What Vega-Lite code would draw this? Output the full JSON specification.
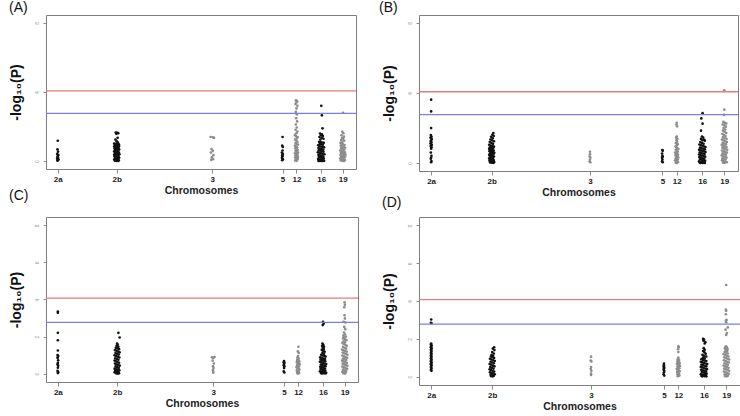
{
"$schema": "https://vega.github.io/schema/vega-lite/v6.json",
"padding": {"left": 8, "top": 0, "right": 5, "bottom": 0},
"background": "white",
"bounds": "flush",
"columns": 2,
"align": "each",
"spacing": {"row": 46, "column": 61},
"datasets": {
"thr": [{"line": "Bonferroni", "y": 4.07}, {"line": "Suggestive", "y": 2.77}],
"A": [
{"c":"2a","x":3.8,"y":1.18},{"c":"2a","x":3.7,"y":0.68},{"c":"2a","x":3.9,"y":0.55},{"c":"2a","x":3.6,"y":0.42},{"c":"2a","x":4.0,"y":0.36},{"c":"2a","x":3.8,"y":0.3},{"c":"2a","x":3.7,"y":0.24},{"c":"2a","x":3.9,"y":0.2},{"c":"2a","x":3.6,"y":0.15},{"c":"2a","x":4.0,"y":0.1},{"c":"2a","x":3.8,"y":0.06},{"c":"2a","x":3.7,"y":0.03},{"c":"2a","x":3.9,"y":0.12},{"c":"2a","x":3.8,"y":0.18},
{"c":"2b","x":22.5,"y":1.66},{"c":"2b","x":22.9,"y":1.64},{"c":"2b","x":23.3,"y":1.62},{"c":"2b","x":22.7,"y":1.58},{"c":"2b","x":23.1,"y":1.35},{"c":"2b","x":22.4,"y":1.25},{"c":"2b","x":22.8,"y":1.15},{"c":"2b","x":23.2,"y":1.08},{"c":"2b","x":22.0,"y":1.02},{"c":"2b","x":22.5,"y":1.0},{"c":"2b","x":23.0,"y":1.0},{"c":"2b","x":23.5,"y":0.98},{"c":"2b","x":22.2,"y":0.94},{"c":"2b","x":22.7,"y":0.92},{"c":"2b","x":23.2,"y":0.9},{"c":"2b","x":23.6,"y":0.88},{"c":"2b","x":22.0,"y":0.85},{"c":"2b","x":22.4,"y":0.82},{"c":"2b","x":22.9,"y":0.8},{"c":"2b","x":23.4,"y":0.78},{"c":"2b","x":22.1,"y":0.74},{"c":"2b","x":22.6,"y":0.72},{"c":"2b","x":23.1,"y":0.7},{"c":"2b","x":23.6,"y":0.68},{"c":"2b","x":22.3,"y":0.65},{"c":"2b","x":22.8,"y":0.62},{"c":"2b","x":23.3,"y":0.6},{"c":"2b","x":22.0,"y":0.57},{"c":"2b","x":22.5,"y":0.55},{"c":"2b","x":23.0,"y":0.52},{"c":"2b","x":23.5,"y":0.5},{"c":"2b","x":22.2,"y":0.47},{"c":"2b","x":22.7,"y":0.45},{"c":"2b","x":23.2,"y":0.42},{"c":"2b","x":23.7,"y":0.4},{"c":"2b","x":22.0,"y":0.37},{"c":"2b","x":22.4,"y":0.35},{"c":"2b","x":22.9,"y":0.32},{"c":"2b","x":23.4,"y":0.3},{"c":"2b","x":22.1,"y":0.27},{"c":"2b","x":22.6,"y":0.25},{"c":"2b","x":23.1,"y":0.22},{"c":"2b","x":23.6,"y":0.2},{"c":"2b","x":22.3,"y":0.17},{"c":"2b","x":22.8,"y":0.15},{"c":"2b","x":23.3,"y":0.12},{"c":"2b","x":22.0,"y":0.1},{"c":"2b","x":22.5,"y":0.08},{"c":"2b","x":23.0,"y":0.06},{"c":"2b","x":23.5,"y":0.04},{"c":"2b","x":22.2,"y":0.03},{"c":"2b","x":22.7,"y":0.02},{"c":"2b","x":23.2,"y":0.01},
{"c":"3","x":53.1,"y":1.4},{"c":"3","x":53.9,"y":1.38},{"c":"3","x":54.2,"y":1.35},{"c":"3","x":53.4,"y":0.7},{"c":"3","x":53.8,"y":0.6},{"c":"3","x":53.2,"y":0.5},{"c":"3","x":54.0,"y":0.35},{"c":"3","x":53.5,"y":0.22},{"c":"3","x":53.9,"y":0.12},{"c":"3","x":53.3,"y":0.08},
{"c":"5","x":76.3,"y":1.4},{"c":"5","x":76.2,"y":0.9},{"c":"5","x":76.4,"y":0.82},{"c":"5","x":76.3,"y":0.62},{"c":"5","x":76.1,"y":0.5},{"c":"5","x":76.4,"y":0.42},{"c":"5","x":76.2,"y":0.35},{"c":"5","x":76.3,"y":0.28},{"c":"5","x":76.1,"y":0.2},{"c":"5","x":76.4,"y":0.12},{"c":"5","x":76.2,"y":0.06},
{"c":"12","x":80.6,"y":3.52},{"c":"12","x":81.0,"y":3.47},{"c":"12","x":80.8,"y":3.4},{"c":"12","x":80.5,"y":3.3},{"c":"12","x":81.1,"y":3.2},{"c":"12","x":80.8,"y":3.05},{"c":"12","x":80.6,"y":2.85},{"c":"12","x":80.9,"y":2.7},{"c":"12","x":80.7,"y":2.48},{"c":"12","x":81.0,"y":2.3},{"c":"12","x":80.6,"y":2.12},{"c":"12","x":80.9,"y":1.95},{"c":"12","x":80.5,"y":1.82},{"c":"12","x":81.1,"y":1.72},{"c":"12","x":80.8,"y":1.62},{"c":"12","x":80.3,"y":1.52},{"c":"12","x":80.6,"y":1.45},{"c":"12","x":81.2,"y":1.4},{"c":"12","x":80.9,"y":1.32},{"c":"12","x":80.4,"y":1.25},{"c":"12","x":80.7,"y":1.2},{"c":"12","x":81.1,"y":1.12},{"c":"12","x":80.5,"y":1.05},{"c":"12","x":80.8,"y":1.0},{"c":"12","x":81.3,"y":0.96},{"c":"12","x":80.3,"y":0.9},{"c":"12","x":80.6,"y":0.85},{"c":"12","x":81.0,"y":0.8},{"c":"12","x":80.4,"y":0.75},{"c":"12","x":80.8,"y":0.7},{"c":"12","x":81.2,"y":0.65},{"c":"12","x":80.5,"y":0.6},{"c":"12","x":80.9,"y":0.55},{"c":"12","x":81.3,"y":0.5},{"c":"12","x":80.3,"y":0.46},{"c":"12","x":80.7,"y":0.42},{"c":"12","x":81.1,"y":0.38},{"c":"12","x":80.5,"y":0.34},{"c":"12","x":80.9,"y":0.3},{"c":"12","x":81.3,"y":0.26},{"c":"12","x":80.4,"y":0.22},{"c":"12","x":80.8,"y":0.18},{"c":"12","x":81.2,"y":0.14},{"c":"12","x":80.6,"y":0.1},{"c":"12","x":81.0,"y":0.07},{"c":"12","x":80.4,"y":0.04},{"c":"12","x":80.8,"y":0.02},
{"c":"16","x":88.8,"y":3.2},{"c":"16","x":89.0,"y":2.65},{"c":"16","x":89.2,"y":1.9},{"c":"16","x":88.4,"y":1.6},{"c":"16","x":89.0,"y":1.55},{"c":"16","x":88.7,"y":1.5},{"c":"16","x":89.3,"y":1.45},{"c":"16","x":88.2,"y":1.4},{"c":"16","x":88.9,"y":1.35},{"c":"16","x":89.5,"y":1.3},{"c":"16","x":88.5,"y":1.25},{"c":"16","x":88.1,"y":1.12},{"c":"16","x":88.6,"y":1.1},{"c":"16","x":89.1,"y":1.08},{"c":"16","x":89.6,"y":1.06},{"c":"16","x":88.3,"y":1.0},{"c":"16","x":88.8,"y":0.98},{"c":"16","x":89.3,"y":0.95},{"c":"16","x":87.8,"y":0.92},{"c":"16","x":88.2,"y":0.88},{"c":"16","x":88.7,"y":0.85},{"c":"16","x":89.2,"y":0.82},{"c":"16","x":89.7,"y":0.8},{"c":"16","x":87.9,"y":0.76},{"c":"16","x":88.4,"y":0.73},{"c":"16","x":88.9,"y":0.7},{"c":"16","x":89.4,"y":0.67},{"c":"16","x":88.0,"y":0.64},{"c":"16","x":88.5,"y":0.61},{"c":"16","x":89.0,"y":0.58},{"c":"16","x":89.5,"y":0.55},{"c":"16","x":87.7,"y":0.52},{"c":"16","x":88.2,"y":0.49},{"c":"16","x":88.7,"y":0.46},{"c":"16","x":89.2,"y":0.43},{"c":"16","x":89.8,"y":0.4},{"c":"16","x":87.9,"y":0.37},{"c":"16","x":88.4,"y":0.34},{"c":"16","x":88.9,"y":0.31},{"c":"16","x":89.4,"y":0.28},{"c":"16","x":88.0,"y":0.25},{"c":"16","x":88.5,"y":0.22},{"c":"16","x":89.0,"y":0.19},{"c":"16","x":89.6,"y":0.16},{"c":"16","x":87.8,"y":0.13},{"c":"16","x":88.3,"y":0.1},{"c":"16","x":88.8,"y":0.08},{"c":"16","x":89.3,"y":0.06},{"c":"16","x":88.1,"y":0.04},{"c":"16","x":88.6,"y":0.03},{"c":"16","x":89.1,"y":0.02},{"c":"16","x":89.7,"y":0.02},{"c":"16","x":87.9,"y":0.01},{"c":"16","x":88.4,"y":0.01},{"c":"16","x":89.0,"y":0.01},
{"c":"19","x":95.8,"y":2.8},{"c":"19","x":95.6,"y":1.7},{"c":"19","x":95.9,"y":1.62},{"c":"19","x":95.3,"y":1.5},{"c":"19","x":96.1,"y":1.42},{"c":"19","x":95.5,"y":1.35},{"c":"19","x":95.9,"y":1.28},{"c":"19","x":95.2,"y":1.22},{"c":"19","x":96.2,"y":1.18},{"c":"19","x":95.6,"y":1.12},{"c":"19","x":95.0,"y":1.06},{"c":"19","x":95.4,"y":1.02},{"c":"19","x":95.8,"y":0.98},{"c":"19","x":96.3,"y":0.94},{"c":"19","x":95.1,"y":0.9},{"c":"19","x":95.5,"y":0.86},{"c":"19","x":96.0,"y":0.82},{"c":"19","x":96.5,"y":0.78},{"c":"19","x":95.2,"y":0.74},{"c":"19","x":95.7,"y":0.7},{"c":"19","x":96.2,"y":0.66},{"c":"19","x":94.9,"y":0.62},{"c":"19","x":95.4,"y":0.58},{"c":"19","x":95.9,"y":0.55},{"c":"19","x":96.4,"y":0.52},{"c":"19","x":95.1,"y":0.48},{"c":"19","x":95.6,"y":0.45},{"c":"19","x":96.1,"y":0.42},{"c":"19","x":96.6,"y":0.39},{"c":"19","x":95.0,"y":0.36},{"c":"19","x":95.5,"y":0.33},{"c":"19","x":96.0,"y":0.3},{"c":"19","x":96.5,"y":0.27},{"c":"19","x":95.2,"y":0.24},{"c":"19","x":95.7,"y":0.21},{"c":"19","x":96.2,"y":0.18},{"c":"19","x":94.9,"y":0.15},{"c":"19","x":95.4,"y":0.12},{"c":"19","x":95.9,"y":0.09},{"c":"19","x":96.4,"y":0.06},{"c":"19","x":95.1,"y":0.04},{"c":"19","x":95.6,"y":0.02},{"c":"19","x":96.1,"y":0.01}
],
"B": [
{"c":"2a","x":3.8,"y":3.62},{"c":"2a","x":3.8,"y":2.95},{"c":"2a","x":3.8,"y":2.0},{"c":"2a","x":3.7,"y":1.6},{"c":"2a","x":3.9,"y":1.52},{"c":"2a","x":3.6,"y":1.45},{"c":"2a","x":4.0,"y":1.38},{"c":"2a","x":3.8,"y":1.3},{"c":"2a","x":3.7,"y":1.24},{"c":"2a","x":3.9,"y":1.18},{"c":"2a","x":3.6,"y":1.12},{"c":"2a","x":4.0,"y":1.05},{"c":"2a","x":3.8,"y":1.0},{"c":"2a","x":3.7,"y":0.95},{"c":"2a","x":3.9,"y":0.9},{"c":"2a","x":3.8,"y":0.82},{"c":"2a","x":3.7,"y":0.6},{"c":"2a","x":3.9,"y":0.42},{"c":"2a","x":3.8,"y":0.32},{"c":"2a","x":3.7,"y":0.25},{"c":"2a","x":3.9,"y":0.12},{"c":"2a","x":3.8,"y":0.05},
{"c":"2b","x":23.3,"y":1.72},{"c":"2b","x":23.0,"y":1.62},{"c":"2b","x":23.4,"y":1.55},{"c":"2b","x":22.6,"y":1.5},{"c":"2b","x":23.1,"y":1.42},{"c":"2b","x":22.4,"y":1.35},{"c":"2b","x":22.9,"y":1.3},{"c":"2b","x":23.5,"y":1.25},{"c":"2b","x":22.2,"y":1.2},{"c":"2b","x":22.7,"y":1.15},{"c":"2b","x":23.2,"y":1.1},{"c":"2b","x":22.0,"y":1.05},{"c":"2b","x":22.5,"y":1.0},{"c":"2b","x":23.0,"y":0.97},{"c":"2b","x":23.5,"y":0.94},{"c":"2b","x":22.2,"y":0.9},{"c":"2b","x":22.7,"y":0.87},{"c":"2b","x":23.2,"y":0.84},{"c":"2b","x":22.0,"y":0.8},{"c":"2b","x":22.4,"y":0.77},{"c":"2b","x":22.9,"y":0.74},{"c":"2b","x":23.4,"y":0.71},{"c":"2b","x":22.1,"y":0.68},{"c":"2b","x":22.6,"y":0.65},{"c":"2b","x":23.1,"y":0.62},{"c":"2b","x":23.6,"y":0.59},{"c":"2b","x":22.3,"y":0.56},{"c":"2b","x":22.8,"y":0.53},{"c":"2b","x":23.3,"y":0.5},{"c":"2b","x":22.0,"y":0.47},{"c":"2b","x":22.5,"y":0.44},{"c":"2b","x":23.0,"y":0.41},{"c":"2b","x":23.5,"y":0.38},{"c":"2b","x":22.2,"y":0.35},{"c":"2b","x":22.7,"y":0.32},{"c":"2b","x":23.2,"y":0.29},{"c":"2b","x":22.0,"y":0.26},{"c":"2b","x":22.4,"y":0.23},{"c":"2b","x":22.9,"y":0.2},{"c":"2b","x":23.4,"y":0.17},{"c":"2b","x":22.1,"y":0.14},{"c":"2b","x":22.6,"y":0.11},{"c":"2b","x":23.1,"y":0.08},{"c":"2b","x":23.6,"y":0.06},{"c":"2b","x":22.3,"y":0.04},{"c":"2b","x":22.8,"y":0.02},{"c":"2b","x":23.3,"y":0.01},
{"c":"3","x":53.6,"y":0.65},{"c":"3","x":53.6,"y":0.5},{"c":"3","x":53.5,"y":0.38},{"c":"3","x":53.7,"y":0.32},{"c":"3","x":53.6,"y":0.2},{"c":"3","x":53.5,"y":0.1},{"c":"3","x":53.7,"y":0.05},
{"c":"5","x":76.3,"y":0.75},{"c":"5","x":76.4,"y":0.7},{"c":"5","x":76.2,"y":0.55},{"c":"5","x":76.3,"y":0.42},{"c":"5","x":76.4,"y":0.36},{"c":"5","x":76.2,"y":0.3},{"c":"5","x":76.3,"y":0.2},{"c":"5","x":76.2,"y":0.1},{"c":"5","x":76.4,"y":0.05},
{"c":"12","x":80.8,"y":2.3},{"c":"12","x":80.7,"y":2.2},{"c":"12","x":80.9,"y":2.1},{"c":"12","x":80.8,"y":1.52},{"c":"12","x":80.6,"y":1.45},{"c":"12","x":81.0,"y":1.38},{"c":"12","x":80.7,"y":1.3},{"c":"12","x":80.9,"y":1.22},{"c":"12","x":80.5,"y":1.15},{"c":"12","x":81.1,"y":1.08},{"c":"12","x":80.8,"y":1.02},{"c":"12","x":80.4,"y":0.96},{"c":"12","x":80.7,"y":0.9},{"c":"12","x":81.0,"y":0.85},{"c":"12","x":81.3,"y":0.8},{"c":"12","x":80.5,"y":0.75},{"c":"12","x":80.8,"y":0.7},{"c":"12","x":81.1,"y":0.65},{"c":"12","x":80.3,"y":0.6},{"c":"12","x":80.6,"y":0.56},{"c":"12","x":80.9,"y":0.52},{"c":"12","x":81.2,"y":0.48},{"c":"12","x":80.4,"y":0.44},{"c":"12","x":80.7,"y":0.4},{"c":"12","x":81.0,"y":0.36},{"c":"12","x":81.3,"y":0.32},{"c":"12","x":80.5,"y":0.28},{"c":"12","x":80.8,"y":0.24},{"c":"12","x":81.1,"y":0.2},{"c":"12","x":80.3,"y":0.16},{"c":"12","x":80.6,"y":0.12},{"c":"12","x":80.9,"y":0.09},{"c":"12","x":81.2,"y":0.06},{"c":"12","x":80.5,"y":0.03},{"c":"12","x":80.8,"y":0.01},
{"c":"16","x":88.9,"y":2.85},{"c":"16","x":88.5,"y":2.55},{"c":"16","x":88.9,"y":2.25},{"c":"16","x":88.4,"y":1.85},{"c":"16","x":88.7,"y":1.52},{"c":"16","x":89.1,"y":1.45},{"c":"16","x":88.4,"y":1.38},{"c":"16","x":89.4,"y":1.33},{"c":"16","x":88.9,"y":1.3},{"c":"16","x":89.6,"y":1.28},{"c":"16","x":88.2,"y":1.2},{"c":"16","x":88.7,"y":1.15},{"c":"16","x":89.2,"y":1.1},{"c":"16","x":87.9,"y":1.06},{"c":"16","x":88.4,"y":1.02},{"c":"16","x":88.9,"y":0.98},{"c":"16","x":89.4,"y":0.95},{"c":"16","x":89.8,"y":0.92},{"c":"16","x":88.1,"y":0.88},{"c":"16","x":88.6,"y":0.85},{"c":"16","x":89.1,"y":0.82},{"c":"16","x":89.6,"y":0.79},{"c":"16","x":87.8,"y":0.76},{"c":"16","x":88.3,"y":0.73},{"c":"16","x":88.8,"y":0.7},{"c":"16","x":89.3,"y":0.67},{"c":"16","x":89.8,"y":0.64},{"c":"16","x":88.0,"y":0.61},{"c":"16","x":88.5,"y":0.58},{"c":"16","x":89.0,"y":0.55},{"c":"16","x":89.5,"y":0.52},{"c":"16","x":87.8,"y":0.49},{"c":"16","x":88.2,"y":0.46},{"c":"16","x":88.7,"y":0.43},{"c":"16","x":89.2,"y":0.4},{"c":"16","x":89.7,"y":0.37},{"c":"16","x":87.9,"y":0.34},{"c":"16","x":88.4,"y":0.31},{"c":"16","x":88.9,"y":0.28},{"c":"16","x":89.4,"y":0.25},{"c":"16","x":88.1,"y":0.22},{"c":"16","x":88.6,"y":0.19},{"c":"16","x":89.1,"y":0.16},{"c":"16","x":89.7,"y":0.13},{"c":"16","x":87.8,"y":0.1},{"c":"16","x":88.3,"y":0.08},{"c":"16","x":88.8,"y":0.06},{"c":"16","x":89.3,"y":0.04},{"c":"16","x":88.0,"y":0.03},{"c":"16","x":88.5,"y":0.02},{"c":"16","x":89.0,"y":0.01},{"c":"16","x":89.6,"y":0.01},{"c":"16","x":88.2,"y":0.01},
{"c":"19","x":95.7,"y":4.15},{"c":"19","x":95.7,"y":3.05},{"c":"19","x":95.6,"y":2.75},{"c":"19","x":95.4,"y":2.35},{"c":"19","x":95.9,"y":2.3},{"c":"19","x":96.3,"y":2.26},{"c":"19","x":95.2,"y":2.2},{"c":"19","x":95.7,"y":2.15},{"c":"19","x":96.2,"y":2.08},{"c":"19","x":95.5,"y":2.0},{"c":"19","x":96.0,"y":1.92},{"c":"19","x":95.3,"y":1.85},{"c":"19","x":95.8,"y":1.78},{"c":"19","x":96.3,"y":1.72},{"c":"19","x":95.1,"y":1.66},{"c":"19","x":95.6,"y":1.6},{"c":"19","x":96.1,"y":1.54},{"c":"19","x":95.3,"y":1.48},{"c":"19","x":95.8,"y":1.43},{"c":"19","x":96.4,"y":1.38},{"c":"19","x":95.0,"y":1.34},{"c":"19","x":95.5,"y":1.3},{"c":"19","x":96.0,"y":1.25},{"c":"19","x":96.5,"y":1.2},{"c":"19","x":95.2,"y":1.16},{"c":"19","x":95.7,"y":1.12},{"c":"19","x":96.2,"y":1.08},{"c":"19","x":94.9,"y":1.04},{"c":"19","x":95.4,"y":1.0},{"c":"19","x":95.9,"y":0.96},{"c":"19","x":96.4,"y":0.92},{"c":"19","x":95.1,"y":0.88},{"c":"19","x":95.6,"y":0.84},{"c":"19","x":96.1,"y":0.8},{"c":"19","x":96.6,"y":0.76},{"c":"19","x":95.0,"y":0.72},{"c":"19","x":95.5,"y":0.68},{"c":"19","x":96.0,"y":0.64},{"c":"19","x":96.5,"y":0.6},{"c":"19","x":95.2,"y":0.56},{"c":"19","x":95.7,"y":0.52},{"c":"19","x":96.2,"y":0.48},{"c":"19","x":94.9,"y":0.44},{"c":"19","x":95.4,"y":0.4},{"c":"19","x":95.9,"y":0.36},{"c":"19","x":96.4,"y":0.32},{"c":"19","x":95.1,"y":0.28},{"c":"19","x":95.6,"y":0.24},{"c":"19","x":96.1,"y":0.2},{"c":"19","x":95.0,"y":0.16},{"c":"19","x":95.5,"y":0.12},{"c":"19","x":96.0,"y":0.08},{"c":"19","x":96.5,"y":0.05},{"c":"19","x":95.3,"y":0.03},{"c":"19","x":95.8,"y":0.01}
],
"C": [
{"c":"2a","x":3.8,"y":3.35},{"c":"2a","x":3.8,"y":3.28},{"c":"2a","x":3.8,"y":2.2},{"c":"2a","x":3.8,"y":1.8},{"c":"2a","x":3.8,"y":1.25},{"c":"2a","x":3.7,"y":1.0},{"c":"2a","x":3.9,"y":0.95},{"c":"2a","x":3.8,"y":0.9},{"c":"2a","x":3.7,"y":0.85},{"c":"2a","x":3.9,"y":0.72},{"c":"2a","x":3.8,"y":0.58},{"c":"2a","x":3.7,"y":0.5},{"c":"2a","x":3.9,"y":0.42},{"c":"2a","x":3.8,"y":0.32},{"c":"2a","x":3.7,"y":0.15},{"c":"2a","x":3.9,"y":0.08},{"c":"2a","x":3.8,"y":0.03},
{"c":"2b","x":23.2,"y":2.2},{"c":"2b","x":23.6,"y":1.95},{"c":"2b","x":22.8,"y":1.62},{"c":"2b","x":23.0,"y":1.56},{"c":"2b","x":22.6,"y":1.5},{"c":"2b","x":23.2,"y":1.45},{"c":"2b","x":22.4,"y":1.4},{"c":"2b","x":22.9,"y":1.36},{"c":"2b","x":23.4,"y":1.32},{"c":"2b","x":22.1,"y":1.27},{"c":"2b","x":22.6,"y":1.23},{"c":"2b","x":23.1,"y":1.19},{"c":"2b","x":23.6,"y":1.15},{"c":"2b","x":22.3,"y":1.11},{"c":"2b","x":22.8,"y":1.07},{"c":"2b","x":23.3,"y":1.03},{"c":"2b","x":22.0,"y":0.99},{"c":"2b","x":22.5,"y":0.95},{"c":"2b","x":23.0,"y":0.91},{"c":"2b","x":23.5,"y":0.87},{"c":"2b","x":22.2,"y":0.83},{"c":"2b","x":22.7,"y":0.79},{"c":"2b","x":23.2,"y":0.75},{"c":"2b","x":22.0,"y":0.71},{"c":"2b","x":22.4,"y":0.67},{"c":"2b","x":22.9,"y":0.63},{"c":"2b","x":23.4,"y":0.59},{"c":"2b","x":22.1,"y":0.55},{"c":"2b","x":22.6,"y":0.51},{"c":"2b","x":23.1,"y":0.47},{"c":"2b","x":23.6,"y":0.43},{"c":"2b","x":22.3,"y":0.39},{"c":"2b","x":22.8,"y":0.35},{"c":"2b","x":23.3,"y":0.31},{"c":"2b","x":22.0,"y":0.27},{"c":"2b","x":22.5,"y":0.24},{"c":"2b","x":23.0,"y":0.21},{"c":"2b","x":23.5,"y":0.18},{"c":"2b","x":22.2,"y":0.15},{"c":"2b","x":22.7,"y":0.12},{"c":"2b","x":23.2,"y":0.09},{"c":"2b","x":22.0,"y":0.07},{"c":"2b","x":22.4,"y":0.05},{"c":"2b","x":22.9,"y":0.03},{"c":"2b","x":23.4,"y":0.02},{"c":"2b","x":22.6,"y":0.01},{"c":"2b","x":23.1,"y":0.01},
{"c":"3","x":53.2,"y":0.88},{"c":"3","x":53.6,"y":0.85},{"c":"3","x":54.0,"y":0.9},{"c":"3","x":53.4,"y":0.7},{"c":"3","x":53.8,"y":0.55},{"c":"3","x":53.5,"y":0.4},{"c":"3","x":53.7,"y":0.3},{"c":"3","x":53.5,"y":0.2},{"c":"3","x":53.6,"y":0.1},{"c":"3","x":53.6,"y":0.05},
{"c":"5","x":76.3,"y":0.68},{"c":"5","x":76.2,"y":0.62},{"c":"5","x":76.4,"y":0.58},{"c":"5","x":76.3,"y":0.52},{"c":"5","x":76.2,"y":0.46},{"c":"5","x":76.4,"y":0.4},{"c":"5","x":76.3,"y":0.3},{"c":"5","x":76.2,"y":0.12},{"c":"5","x":76.4,"y":0.06},
{"c":"12","x":80.9,"y":1.45},{"c":"12","x":80.7,"y":1.2},{"c":"12","x":81.0,"y":1.12},{"c":"12","x":80.8,"y":0.95},{"c":"12","x":80.6,"y":0.88},{"c":"12","x":81.0,"y":0.82},{"c":"12","x":80.7,"y":0.78},{"c":"12","x":80.5,"y":0.74},{"c":"12","x":80.9,"y":0.7},{"c":"12","x":81.2,"y":0.66},{"c":"12","x":80.4,"y":0.62},{"c":"12","x":80.7,"y":0.58},{"c":"12","x":81.0,"y":0.54},{"c":"12","x":81.3,"y":0.5},{"c":"12","x":80.5,"y":0.46},{"c":"12","x":80.8,"y":0.42},{"c":"12","x":81.1,"y":0.38},{"c":"12","x":80.3,"y":0.34},{"c":"12","x":80.6,"y":0.3},{"c":"12","x":80.9,"y":0.26},{"c":"12","x":81.2,"y":0.22},{"c":"12","x":80.4,"y":0.18},{"c":"12","x":80.7,"y":0.14},{"c":"12","x":81.0,"y":0.1},{"c":"12","x":80.5,"y":0.07},{"c":"12","x":80.8,"y":0.04},{"c":"12","x":81.1,"y":0.02},{"c":"12","x":80.6,"y":0.01},
{"c":"16","x":88.8,"y":2.8},{"c":"16","x":89.0,"y":2.7},{"c":"16","x":88.7,"y":2.62},{"c":"16","x":88.6,"y":1.62},{"c":"16","x":88.9,"y":1.55},{"c":"16","x":88.5,"y":1.5},{"c":"16","x":89.1,"y":1.45},{"c":"16","x":88.7,"y":1.4},{"c":"16","x":89.0,"y":1.32},{"c":"16","x":88.4,"y":1.28},{"c":"16","x":88.9,"y":1.22},{"c":"16","x":89.3,"y":1.18},{"c":"16","x":88.6,"y":1.12},{"c":"16","x":89.1,"y":1.06},{"c":"16","x":88.2,"y":1.02},{"c":"16","x":88.7,"y":0.98},{"c":"16","x":89.2,"y":0.95},{"c":"16","x":89.6,"y":0.92},{"c":"16","x":87.9,"y":0.88},{"c":"16","x":88.4,"y":0.85},{"c":"16","x":88.9,"y":0.82},{"c":"16","x":89.4,"y":0.79},{"c":"16","x":88.0,"y":0.76},{"c":"16","x":88.5,"y":0.73},{"c":"16","x":89.0,"y":0.7},{"c":"16","x":89.5,"y":0.67},{"c":"16","x":87.8,"y":0.64},{"c":"16","x":88.3,"y":0.61},{"c":"16","x":88.8,"y":0.58},{"c":"16","x":89.3,"y":0.55},{"c":"16","x":89.8,"y":0.52},{"c":"16","x":88.1,"y":0.49},{"c":"16","x":88.6,"y":0.46},{"c":"16","x":89.1,"y":0.43},{"c":"16","x":89.6,"y":0.4},{"c":"16","x":87.9,"y":0.37},{"c":"16","x":88.4,"y":0.34},{"c":"16","x":88.9,"y":0.31},{"c":"16","x":89.4,"y":0.28},{"c":"16","x":88.0,"y":0.25},{"c":"16","x":88.5,"y":0.22},{"c":"16","x":89.0,"y":0.19},{"c":"16","x":89.5,"y":0.16},{"c":"16","x":87.8,"y":0.13},{"c":"16","x":88.3,"y":0.11},{"c":"16","x":88.8,"y":0.09},{"c":"16","x":89.3,"y":0.07},{"c":"16","x":89.8,"y":0.05},{"c":"16","x":88.1,"y":0.04},{"c":"16","x":88.6,"y":0.03},{"c":"16","x":89.1,"y":0.02},{"c":"16","x":89.6,"y":0.01},{"c":"16","x":88.4,"y":0.01},
{"c":"19","x":95.7,"y":3.85},{"c":"19","x":95.8,"y":3.72},{"c":"19","x":95.6,"y":3.58},{"c":"19","x":95.7,"y":3.15},{"c":"19","x":95.8,"y":2.98},{"c":"19","x":95.4,"y":2.8},{"c":"19","x":96.0,"y":2.76},{"c":"19","x":95.6,"y":2.52},{"c":"19","x":95.9,"y":2.4},{"c":"19","x":95.5,"y":2.22},{"c":"19","x":95.8,"y":2.12},{"c":"19","x":95.3,"y":2.05},{"c":"19","x":96.1,"y":2.0},{"c":"19","x":95.6,"y":1.95},{"c":"19","x":95.2,"y":1.9},{"c":"19","x":95.9,"y":1.85},{"c":"19","x":96.3,"y":1.8},{"c":"19","x":95.4,"y":1.75},{"c":"19","x":95.8,"y":1.7},{"c":"19","x":95.0,"y":1.65},{"c":"19","x":95.5,"y":1.6},{"c":"19","x":96.0,"y":1.55},{"c":"19","x":96.4,"y":1.5},{"c":"19","x":95.2,"y":1.45},{"c":"19","x":95.7,"y":1.4},{"c":"19","x":96.2,"y":1.35},{"c":"19","x":94.9,"y":1.3},{"c":"19","x":95.4,"y":1.26},{"c":"19","x":95.9,"y":1.22},{"c":"19","x":96.4,"y":1.18},{"c":"19","x":95.1,"y":1.14},{"c":"19","x":95.6,"y":1.1},{"c":"19","x":96.1,"y":1.06},{"c":"19","x":96.6,"y":1.02},{"c":"19","x":95.0,"y":0.98},{"c":"19","x":95.5,"y":0.94},{"c":"19","x":96.0,"y":0.9},{"c":"19","x":96.5,"y":0.86},{"c":"19","x":95.2,"y":0.82},{"c":"19","x":95.7,"y":0.78},{"c":"19","x":96.2,"y":0.74},{"c":"19","x":94.9,"y":0.7},{"c":"19","x":95.4,"y":0.66},{"c":"19","x":95.9,"y":0.62},{"c":"19","x":96.4,"y":0.58},{"c":"19","x":95.1,"y":0.54},{"c":"19","x":95.6,"y":0.5},{"c":"19","x":96.1,"y":0.46},{"c":"19","x":96.6,"y":0.42},{"c":"19","x":95.0,"y":0.38},{"c":"19","x":95.5,"y":0.34},{"c":"19","x":96.0,"y":0.3},{"c":"19","x":96.5,"y":0.26},{"c":"19","x":95.2,"y":0.22},{"c":"19","x":95.7,"y":0.18},{"c":"19","x":96.2,"y":0.14},{"c":"19","x":95.0,"y":0.1},{"c":"19","x":95.5,"y":0.07},{"c":"19","x":96.0,"y":0.04},{"c":"19","x":95.3,"y":0.02},{"c":"19","x":95.8,"y":0.01}
],
"D": [
{"c":"2a","x":3.8,"y":3.02},{"c":"2a","x":3.7,"y":2.85},{"c":"2a","x":3.9,"y":2.82},{"c":"2a","x":3.8,"y":1.75},{"c":"2a","x":3.7,"y":1.7},{"c":"2a","x":3.9,"y":1.65},{"c":"2a","x":3.8,"y":1.6},{"c":"2a","x":3.7,"y":1.55},{"c":"2a","x":3.9,"y":1.5},{"c":"2a","x":3.8,"y":1.45},{"c":"2a","x":3.7,"y":1.4},{"c":"2a","x":3.9,"y":1.35},{"c":"2a","x":3.8,"y":1.3},{"c":"2a","x":3.7,"y":1.25},{"c":"2a","x":3.9,"y":1.2},{"c":"2a","x":3.8,"y":1.15},{"c":"2a","x":3.7,"y":1.1},{"c":"2a","x":3.9,"y":1.05},{"c":"2a","x":3.8,"y":1.0},{"c":"2a","x":3.7,"y":0.95},{"c":"2a","x":3.9,"y":0.9},{"c":"2a","x":3.8,"y":0.85},{"c":"2a","x":3.7,"y":0.8},{"c":"2a","x":3.9,"y":0.75},{"c":"2a","x":3.8,"y":0.7},{"c":"2a","x":3.7,"y":0.65},{"c":"2a","x":3.9,"y":0.6},{"c":"2a","x":3.8,"y":0.55},{"c":"2a","x":3.7,"y":0.5},{"c":"2a","x":3.9,"y":0.45},{"c":"2a","x":3.8,"y":0.4},{"c":"2a","x":3.7,"y":0.35},{"c":"2a","x":3.9,"y":0.3},
{"c":"2b","x":23.4,"y":1.55},{"c":"2b","x":23.0,"y":1.48},{"c":"2b","x":23.5,"y":1.4},{"c":"2b","x":22.8,"y":1.3},{"c":"2b","x":23.3,"y":1.22},{"c":"2b","x":22.6,"y":1.15},{"c":"2b","x":23.1,"y":1.1},{"c":"2b","x":22.4,"y":1.06},{"c":"2b","x":22.9,"y":1.02},{"c":"2b","x":23.4,"y":0.98},{"c":"2b","x":22.1,"y":0.94},{"c":"2b","x":22.6,"y":0.9},{"c":"2b","x":23.1,"y":0.86},{"c":"2b","x":23.6,"y":0.82},{"c":"2b","x":22.3,"y":0.78},{"c":"2b","x":22.8,"y":0.74},{"c":"2b","x":23.3,"y":0.7},{"c":"2b","x":22.0,"y":0.66},{"c":"2b","x":22.5,"y":0.62},{"c":"2b","x":23.0,"y":0.58},{"c":"2b","x":23.5,"y":0.54},{"c":"2b","x":22.2,"y":0.5},{"c":"2b","x":22.7,"y":0.46},{"c":"2b","x":23.2,"y":0.42},{"c":"2b","x":22.0,"y":0.38},{"c":"2b","x":22.4,"y":0.34},{"c":"2b","x":22.9,"y":0.3},{"c":"2b","x":23.4,"y":0.26},{"c":"2b","x":22.1,"y":0.22},{"c":"2b","x":22.6,"y":0.18},{"c":"2b","x":23.1,"y":0.15},{"c":"2b","x":23.6,"y":0.12},{"c":"2b","x":22.3,"y":0.09},{"c":"2b","x":22.8,"y":0.06},{"c":"2b","x":23.3,"y":0.04},{"c":"2b","x":22.5,"y":0.02},{"c":"2b","x":23.0,"y":0.01},
{"c":"3","x":53.6,"y":1.05},{"c":"3","x":53.5,"y":0.85},{"c":"3","x":53.7,"y":0.8},{"c":"3","x":53.6,"y":0.5},{"c":"3","x":53.5,"y":0.4},{"c":"3","x":53.7,"y":0.3},{"c":"3","x":53.6,"y":0.15},{"c":"3","x":53.6,"y":0.08},
{"c":"5","x":76.3,"y":0.68},{"c":"5","x":76.3,"y":0.6},{"c":"5","x":76.2,"y":0.52},{"c":"5","x":76.4,"y":0.47},{"c":"5","x":76.3,"y":0.42},{"c":"5","x":76.2,"y":0.36},{"c":"5","x":76.4,"y":0.3},{"c":"5","x":76.3,"y":0.22},{"c":"5","x":76.2,"y":0.12},{"c":"5","x":76.4,"y":0.05},
{"c":"12","x":80.8,"y":1.6},{"c":"12","x":80.9,"y":1.55},{"c":"12","x":80.7,"y":1.45},{"c":"12","x":80.8,"y":1.3},{"c":"12","x":80.8,"y":1.0},{"c":"12","x":80.6,"y":0.92},{"c":"12","x":81.0,"y":0.88},{"c":"12","x":80.7,"y":0.84},{"c":"12","x":80.5,"y":0.8},{"c":"12","x":80.9,"y":0.76},{"c":"12","x":81.2,"y":0.72},{"c":"12","x":80.4,"y":0.68},{"c":"12","x":80.7,"y":0.64},{"c":"12","x":81.0,"y":0.6},{"c":"12","x":81.3,"y":0.56},{"c":"12","x":80.5,"y":0.52},{"c":"12","x":80.8,"y":0.48},{"c":"12","x":81.1,"y":0.44},{"c":"12","x":80.3,"y":0.4},{"c":"12","x":80.6,"y":0.36},{"c":"12","x":80.9,"y":0.32},{"c":"12","x":81.2,"y":0.28},{"c":"12","x":80.4,"y":0.24},{"c":"12","x":80.7,"y":0.2},{"c":"12","x":81.0,"y":0.16},{"c":"12","x":80.5,"y":0.12},{"c":"12","x":80.8,"y":0.08},{"c":"12","x":81.1,"y":0.05},{"c":"12","x":80.6,"y":0.02},
{"c":"16","x":88.5,"y":2.0},{"c":"16","x":88.8,"y":1.95},{"c":"16","x":88.6,"y":1.9},{"c":"16","x":89.2,"y":1.82},{"c":"16","x":89.0,"y":1.75},{"c":"16","x":88.7,"y":1.5},{"c":"16","x":89.0,"y":1.42},{"c":"16","x":88.5,"y":1.35},{"c":"16","x":88.9,"y":1.28},{"c":"16","x":89.3,"y":1.2},{"c":"16","x":88.3,"y":1.15},{"c":"16","x":88.8,"y":1.1},{"c":"16","x":89.5,"y":1.06},{"c":"16","x":88.5,"y":1.0},{"c":"16","x":89.0,"y":0.96},{"c":"16","x":88.0,"y":0.92},{"c":"16","x":88.5,"y":0.88},{"c":"16","x":89.0,"y":0.85},{"c":"16","x":89.5,"y":0.82},{"c":"16","x":87.8,"y":0.78},{"c":"16","x":88.3,"y":0.75},{"c":"16","x":88.8,"y":0.72},{"c":"16","x":89.3,"y":0.69},{"c":"16","x":89.8,"y":0.66},{"c":"16","x":88.0,"y":0.63},{"c":"16","x":88.5,"y":0.6},{"c":"16","x":89.0,"y":0.57},{"c":"16","x":89.5,"y":0.54},{"c":"16","x":87.8,"y":0.51},{"c":"16","x":88.2,"y":0.48},{"c":"16","x":88.7,"y":0.45},{"c":"16","x":89.2,"y":0.42},{"c":"16","x":89.7,"y":0.39},{"c":"16","x":87.9,"y":0.36},{"c":"16","x":88.4,"y":0.33},{"c":"16","x":88.9,"y":0.3},{"c":"16","x":89.4,"y":0.27},{"c":"16","x":88.1,"y":0.24},{"c":"16","x":88.6,"y":0.21},{"c":"16","x":89.1,"y":0.18},{"c":"16","x":89.6,"y":0.15},{"c":"16","x":87.8,"y":0.12},{"c":"16","x":88.3,"y":0.1},{"c":"16","x":88.8,"y":0.08},{"c":"16","x":89.3,"y":0.06},{"c":"16","x":88.0,"y":0.04},{"c":"16","x":88.5,"y":0.03},{"c":"16","x":89.0,"y":0.02},{"c":"16","x":89.5,"y":0.01},{"c":"16","x":88.2,"y":0.01},
{"c":"19","x":95.7,"y":4.85},{"c":"19","x":95.6,"y":3.55},{"c":"19","x":95.7,"y":3.48},{"c":"19","x":95.6,"y":3.3},{"c":"19","x":95.8,"y":3.0},{"c":"19","x":95.6,"y":2.95},{"c":"19","x":95.7,"y":2.88},{"c":"19","x":96.2,"y":2.6},{"c":"19","x":95.5,"y":2.48},{"c":"19","x":95.9,"y":2.3},{"c":"19","x":95.7,"y":2.2},{"c":"19","x":95.6,"y":1.6},{"c":"19","x":95.9,"y":1.55},{"c":"19","x":95.3,"y":1.5},{"c":"19","x":96.1,"y":1.45},{"c":"19","x":95.5,"y":1.4},{"c":"19","x":96.0,"y":1.35},{"c":"19","x":95.2,"y":1.3},{"c":"19","x":95.7,"y":1.26},{"c":"19","x":96.2,"y":1.22},{"c":"19","x":94.9,"y":1.18},{"c":"19","x":95.4,"y":1.14},{"c":"19","x":95.9,"y":1.1},{"c":"19","x":96.4,"y":1.06},{"c":"19","x":95.1,"y":1.02},{"c":"19","x":95.6,"y":0.98},{"c":"19","x":96.1,"y":0.94},{"c":"19","x":96.6,"y":0.9},{"c":"19","x":95.0,"y":0.86},{"c":"19","x":95.5,"y":0.82},{"c":"19","x":96.0,"y":0.78},{"c":"19","x":96.5,"y":0.74},{"c":"19","x":95.2,"y":0.7},{"c":"19","x":95.7,"y":0.66},{"c":"19","x":96.2,"y":0.62},{"c":"19","x":94.9,"y":0.58},{"c":"19","x":95.4,"y":0.54},{"c":"19","x":95.9,"y":0.5},{"c":"19","x":96.4,"y":0.46},{"c":"19","x":95.1,"y":0.42},{"c":"19","x":95.6,"y":0.38},{"c":"19","x":96.1,"y":0.34},{"c":"19","x":96.6,"y":0.3},{"c":"19","x":95.0,"y":0.26},{"c":"19","x":95.5,"y":0.22},{"c":"19","x":96.0,"y":0.18},{"c":"19","x":96.5,"y":0.14},{"c":"19","x":95.2,"y":0.1},{"c":"19","x":95.7,"y":0.07},{"c":"19","x":96.2,"y":0.04},{"c":"19","x":95.4,"y":0.02},{"c":"19","x":95.9,"y":0.01}
]
},
"concat": [
{"title": {"text": "(A)", "offset": 0}, "width": 310, "height": 154,
 "layer": [
  {"data": {"name": "A"}, "mark": {"type": "circle", "size": 7, "opacity": 1},
   "encoding": {
    "x": {"field": "x", "type": "quantitative", "scale": {"domain": [0, 100], "nice": false, "zero": false}, "axis": {"title": "Chromosomes", "values": [3.8, 22.8, 53.6, 76.3, 80.8, 88.8, 95.7], "labelExpr": "datum.value < 10 ? '2a' : datum.value < 30 ? '2b' : datum.value < 60 ? '3' : datum.value < 78 ? '5' : datum.value < 85 ? '12' : datum.value < 92 ? '16' : '19'"}},
    "y": {"field": "y", "type": "quantitative", "scale": {"domain": [-0.45, 8.45], "nice": false, "zero": false}, "axis": {"title": "-log\u2081\u2080(P)", "values": [0, 2, 4, 6, 8]}},
    "fill": {"field": "c", "type": "nominal", "scale": {"domain": ["2a","2b","3","5","12","16","19"], "range": ["#111111","#111111","#8c8c8c","#111111","#8c8c8c","#111111","#8c8c8c"]}, "legend": null}
   }},
  {"data": {"name": "thr"}, "mark": {"type": "rule", "strokeWidth": 1.3},
   "encoding": {"y": {"field": "y", "type": "quantitative"}, "stroke": {"field": "line", "type": "nominal", "scale": {"domain": ["Bonferroni", "Suggestive"], "range": ["#e77b7b", "#7c7cf0"]}, "legend": null}}}
 ]},
{"title": {"text": "(B)", "offset": 0, "dx": -3}, "width": 319, "height": 156,
 "layer": [
  {"data": {"name": "B"}, "mark": {"type": "circle", "size": 7, "opacity": 1},
   "encoding": {
    "x": {"field": "x", "type": "quantitative", "scale": {"domain": [0, 100], "nice": false, "zero": false}, "axis": {"title": "Chromosomes", "values": [3.8, 22.8, 53.6, 76.3, 80.8, 88.8, 95.7], "labelExpr": "datum.value < 10 ? '2a' : datum.value < 30 ? '2b' : datum.value < 60 ? '3' : datum.value < 78 ? '5' : datum.value < 85 ? '12' : datum.value < 92 ? '16' : '19'"}},
    "y": {"field": "y", "type": "quantitative", "scale": {"domain": [-0.45, 8.45], "nice": false, "zero": false}, "axis": {"title": "-log\u2081\u2080(P)", "values": [0, 2, 4, 6, 8]}},
    "fill": {"field": "c", "type": "nominal", "scale": {"domain": ["2a","2b","3","5","12","16","19"], "range": ["#111111","#111111","#8c8c8c","#111111","#8c8c8c","#111111","#8c8c8c"]}, "legend": null}
   }},
  {"data": {"name": "thr"}, "mark": {"type": "rule", "strokeWidth": 1.3},
   "encoding": {"y": {"field": "y", "type": "quantitative"}, "stroke": {"field": "line", "type": "nominal", "scale": {"domain": ["Bonferroni", "Suggestive"], "range": ["#e77b7b", "#7c7cf0"]}, "legend": null}}}
 ]},
{"title": {"text": "(C)", "offset": 14}, "width": 312, "height": 165,
 "layer": [
  {"data": {"name": "C"}, "mark": {"type": "circle", "size": 7, "opacity": 1},
   "encoding": {
    "x": {"field": "x", "type": "quantitative", "scale": {"domain": [0, 100], "nice": false, "zero": false}, "axis": {"title": "Chromosomes", "values": [3.8, 22.8, 53.6, 76.3, 80.8, 88.8, 95.7], "labelExpr": "datum.value < 10 ? '2a' : datum.value < 30 ? '2b' : datum.value < 60 ? '3' : datum.value < 78 ? '5' : datum.value < 85 ? '12' : datum.value < 92 ? '16' : '19'"}},
    "y": {"field": "y", "type": "quantitative", "scale": {"domain": [-0.45, 8.45], "nice": false, "zero": false}, "axis": {"title": "-log\u2081\u2080(P)", "values": [0, 2, 4, 6, 8]}},
    "fill": {"field": "c", "type": "nominal", "scale": {"domain": ["2a","2b","3","5","12","16","19"], "range": ["#111111","#111111","#8c8c8c","#111111","#8c8c8c","#111111","#8c8c8c"]}, "legend": null}
   }},
  {"data": {"name": "thr"}, "mark": {"type": "rule", "strokeWidth": 1.3},
   "encoding": {"y": {"field": "y", "type": "quantitative"}, "stroke": {"field": "line", "type": "nominal", "scale": {"domain": ["Bonferroni", "Suggestive"], "range": ["#e77b7b", "#7c7cf0"]}, "legend": null}}}
 ]},
{"title": {"text": "(D)", "offset": 7}, "width": 321, "height": 168,
 "layer": [
  {"data": {"name": "D"}, "mark": {"type": "circle", "size": 7, "opacity": 1},
   "encoding": {
    "x": {"field": "x", "type": "quantitative", "scale": {"domain": [0, 100], "nice": false, "zero": false}, "axis": {"title": "Chromosomes", "values": [3.8, 22.8, 53.6, 76.3, 80.8, 88.8, 95.7], "labelExpr": "datum.value < 10 ? '2a' : datum.value < 30 ? '2b' : datum.value < 60 ? '3' : datum.value < 78 ? '5' : datum.value < 85 ? '12' : datum.value < 92 ? '16' : '19'"}},
    "y": {"field": "y", "type": "quantitative", "scale": {"domain": [-0.45, 8.45], "nice": false, "zero": false}, "axis": {"title": "-log\u2081\u2080(P)", "values": [0, 2, 4, 6, 8]}},
    "fill": {"field": "c", "type": "nominal", "scale": {"domain": ["2a","2b","3","5","12","16","19"], "range": ["#111111","#111111","#8c8c8c","#111111","#8c8c8c","#111111","#8c8c8c"]}, "legend": null}
   }},
  {"data": {"name": "thr"}, "mark": {"type": "rule", "strokeWidth": 1.3},
   "encoding": {"y": {"field": "y", "type": "quantitative"}, "stroke": {"field": "line", "type": "nominal", "scale": {"domain": ["Bonferroni", "Suggestive"], "range": ["#e77b7b", "#7c7cf0"]}, "legend": null}}}
 ]}
],
"config": {
 "font": "Liberation Sans",
 "view": {"stroke": "#7f7f7f", "strokeWidth": 1},
 "axis": {"grid": false, "domain": false, "tickColor": "#8a8a8a", "tickWidth": 1},
 "axisX": {"tickSize": 4, "labelPadding": 2, "labelFontSize": 8, "labelFontWeight": "bold", "labelColor": "#222222", "titleFontSize": 10.5, "titleFontWeight": "bold", "titleColor": "#222222", "titlePadding": 2},
 "axisY": {"tickSize": 3, "labelPadding": 4, "labelFontSize": 5, "labelAngle": -90, "labelColor": "#9a9a9a", "titleFontSize": 14, "titleFontWeight": "bold", "titleColor": "#111111", "titlePadding": 11},
 "title": {"anchor": "start", "frame": "bounds", "fontSize": 14, "fontWeight": "normal", "color": "#111111"}
}
}
